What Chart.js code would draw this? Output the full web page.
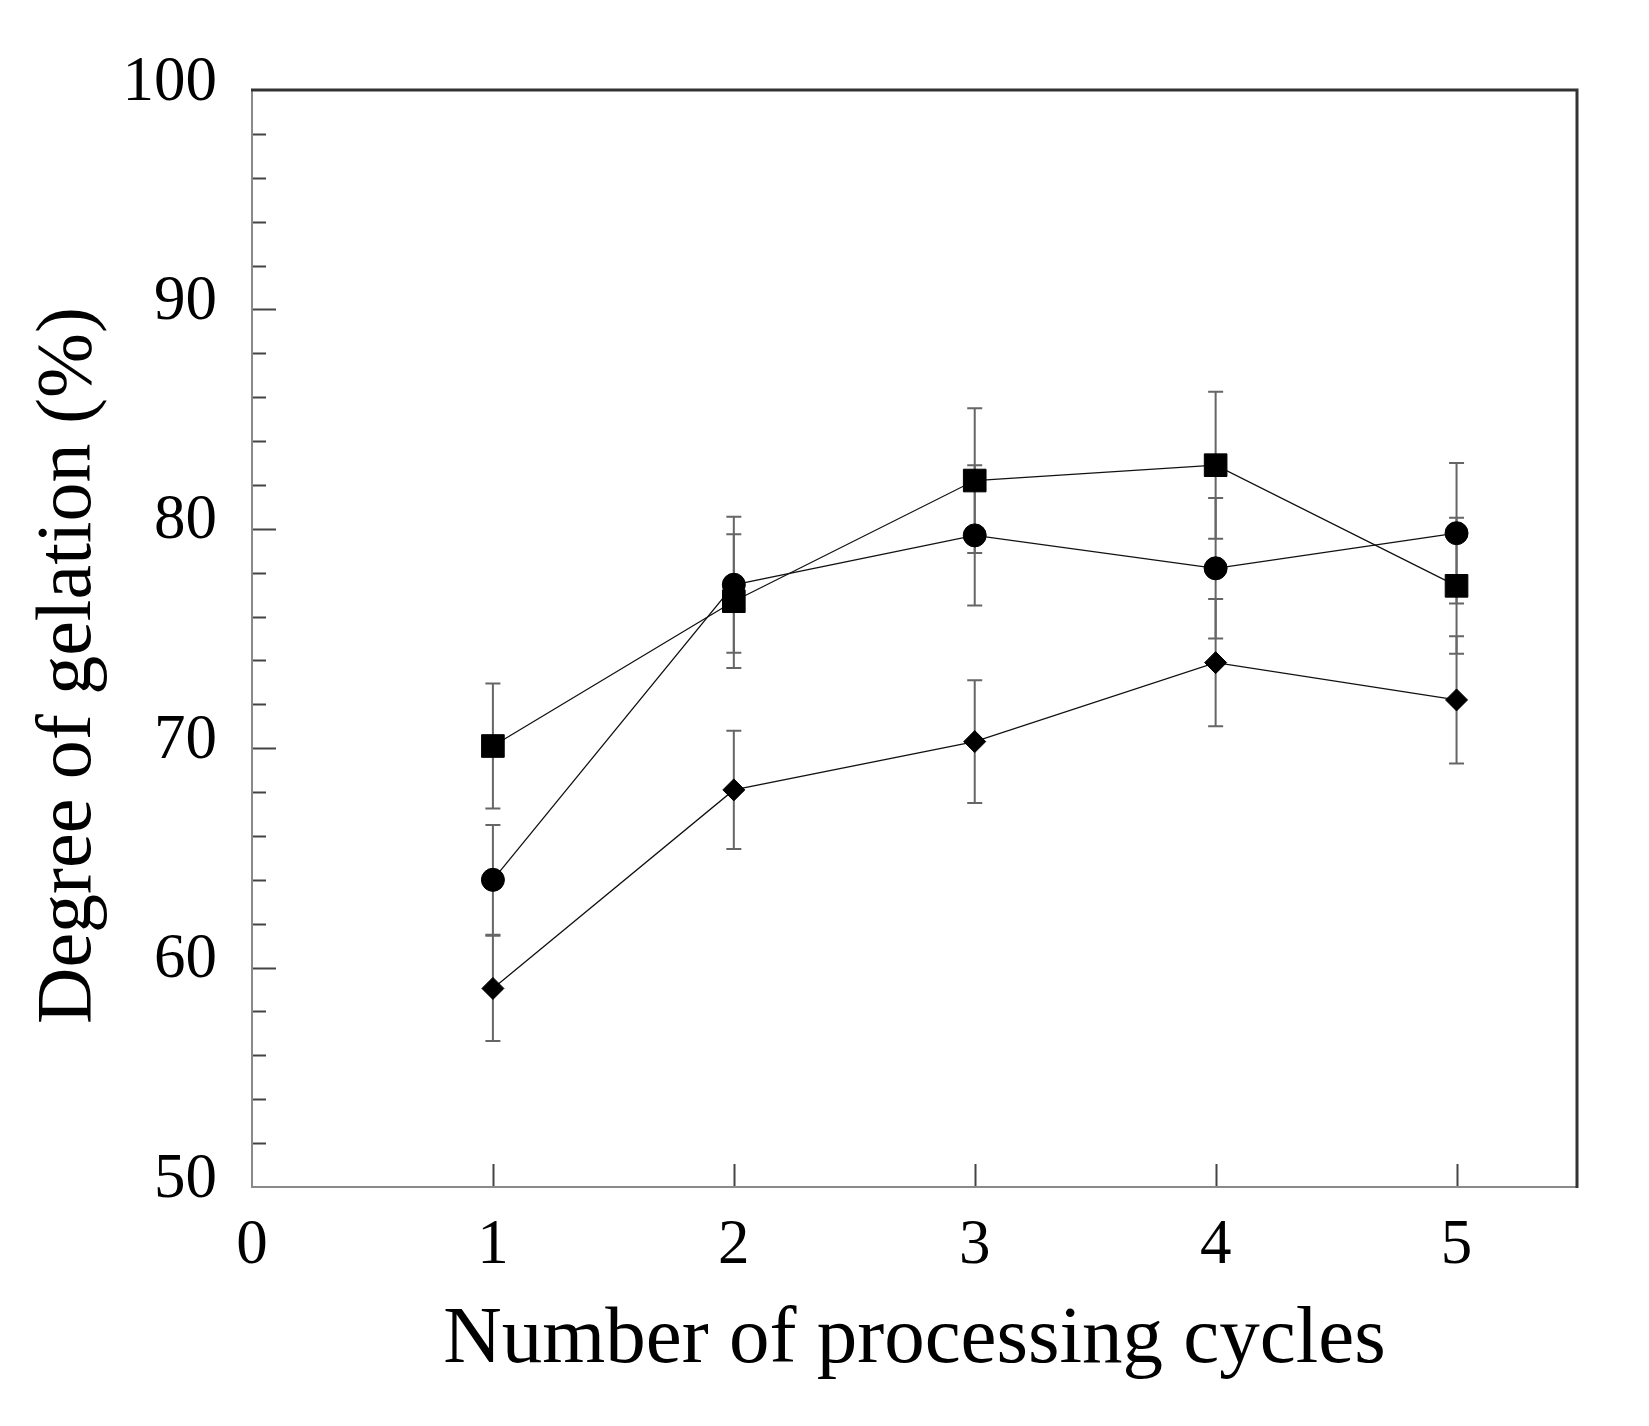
<!DOCTYPE html>
<html>
<head>
<meta charset="utf-8">
<script src="https://cdn.jsdelivr.net/npm/chart.js@4.4.1/dist/chart.umd.min.js"></script>
<style>
  html, body { margin: 0; padding: 0; background: #ffffff; }
  #wrap { width: 1649px; height: 1426px; position: relative; }
</style>
</head>
<body>
<div id="wrap"><canvas id="c" width="1649" height="1426"></canvas></div>
<script>
// ---- data ----
const cycles = [1, 2, 3, 4, 5];
const squareMean = [70.1, 76.7, 82.2, 82.9, 77.4];
const squareErr = [2.85, 3.05, 3.3, 3.35, 3.1];
const circleMean = [64.0, 77.45, 79.7, 78.2, 79.8];
const circleErr = [2.5, 3.1, 3.2, 3.2, 3.2];
const diamondMean = [59.05, 68.1, 70.3, 73.9, 72.2];
const diamondErr = [2.4, 2.7, 2.8, 2.9, 2.9];

const xTickValues = [0, 1, 2, 3, 4, 5];
const xMarkTicks = [1, 2, 3, 4, 5];
const yTickValues = [50, 60, 70, 80, 90, 100];
const yMinorTicks = [52, 54, 56, 58, 62, 64, 66, 68, 72, 74, 76, 78, 82, 84, 86, 88, 92, 94, 96, 98];

const xTitle = 'Number of processing cycles';
const yTitle = 'Degree of gelation (%)';

const toPoints = (ys) => cycles.map((c, i) => ({ x: c, y: ys[i] }));

const errorSets = [
  { mean: squareMean, err: squareErr },
  { mean: circleMean, err: circleErr },
  { mean: diamondMean, err: diamondErr }
];

const serif = "'Liberation Serif', 'DejaVu Serif', serif";

const decorPlugin = {
  id: 'decor',
  beforeDatasetsDraw(chart) {
    const { ctx, scales: { x, y } } = chart;
    ctx.save();
    ctx.strokeStyle = '#666666';
    ctx.lineWidth = 2;
    errorSets.forEach(s => {
      cycles.forEach((c, i) => {
        const px = x.getPixelForValue(c);
        const top = y.getPixelForValue(s.mean[i] + s.err[i]);
        const bot = y.getPixelForValue(s.mean[i] - s.err[i]);
        ctx.beginPath();
        ctx.moveTo(px, top); ctx.lineTo(px, bot);
        ctx.moveTo(px - 7.5, top); ctx.lineTo(px + 7.5, top);
        ctx.moveTo(px - 7.5, bot); ctx.lineTo(px + 7.5, bot);
        ctx.stroke();
      });
    });
    ctx.restore();
  },
  afterDraw(chart) {
    const { ctx, chartArea: a, scales: { x, y } } = chart;
    ctx.save();
    // inward ticks
    ctx.strokeStyle = '#444444';
    ctx.lineWidth = 2;
    ctx.beginPath();
    yTickValues.forEach(v => {
      if (v === 50 || v === 100) return;
      const py = Math.round(y.getPixelForValue(v)) + 0.5;
      ctx.moveTo(a.left, py); ctx.lineTo(a.left + 24, py);
    });
    yMinorTicks.forEach(v => {
      const py = Math.round(y.getPixelForValue(v)) + 0.5;
      ctx.moveTo(a.left, py); ctx.lineTo(a.left + 14, py);
    });
    xMarkTicks.forEach(v => {
      const px = Math.round(x.getPixelForValue(v)) + 0.5;
      ctx.moveTo(px, a.bottom); ctx.lineTo(px, a.bottom - 23);
    });
    ctx.stroke();
    // frame: left & bottom light, top & right dark
    ctx.lineWidth = 2;
    ctx.strokeStyle = '#8a8a8a';
    ctx.beginPath();
    ctx.moveTo(a.left, a.top); ctx.lineTo(a.left, a.bottom);
    ctx.lineTo(a.right, a.bottom);
    ctx.stroke();
    ctx.lineWidth = 3;
    ctx.strokeStyle = '#333333';
    ctx.beginPath();
    ctx.moveTo(a.left - 1, a.top); ctx.lineTo(a.right, a.top); ctx.lineTo(a.right, a.bottom + 1);
    ctx.stroke();
    // y-axis title (drawn slightly below the axis centre, as in the reference)
    ctx.fillStyle = '#000000';
    ctx.font = "78px " + serif;
    ctx.textAlign = 'center';
    ctx.textBaseline = 'middle';
    ctx.translate(70, (a.top + a.bottom) / 2 + 27);
    ctx.rotate(-Math.PI / 2);
    ctx.fillText(yTitle, 0, 0);
    ctx.restore();
  }
};

const common = {
  borderColor: '#111111',
  backgroundColor: '#000000',
  pointBackgroundColor: '#000000',
  pointBorderColor: '#000000',
  borderWidth: 1.3,
  pointBorderWidth: 1,
  tension: 0,
  fill: false
};

new Chart(document.getElementById('c'), {
  type: 'line',
  data: {
    datasets: [
      Object.assign({ label: 'square', data: toPoints(squareMean), pointStyle: 'rect', pointRadius: 16, pointHoverRadius: 16 }, common),
      Object.assign({ label: 'circle', data: toPoints(circleMean), pointStyle: 'circle', pointRadius: 11.5, pointHoverRadius: 11.5 }, common),
      Object.assign({ label: 'diamond', data: toPoints(diamondMean), pointStyle: 'rectRot', pointRadius: 11, pointHoverRadius: 11 }, common)
    ]
  },
  options: {
    responsive: false,
    animation: false,
    devicePixelRatio: 1,
    layout: { padding: { top: 90, right: 72, left: 0, bottom: 0 } },
    plugins: { legend: { display: false }, tooltip: { enabled: false } },
    scales: {
      x: {
        type: 'linear',
        min: 0,
        max: 5.5,
        afterBuildTicks: (scale) => { scale.ticks = xTickValues.map(v => ({ value: v })); },
        afterFit: (scale) => { scale.height = 239; },
        grid: { display: false, drawTicks: false },
        border: { display: false },
        ticks: {
          color: '#000000',
          padding: 22,
          maxRotation: 0,
          autoSkip: false,
          font: { family: serif, size: 63 },
          callback: (v) => String(v)
        },
        title: {
          display: true,
          text: xTitle,
          color: '#000000',
          font: { family: serif, size: 81 },
          padding: { top: 0, bottom: 37 }
        }
      },
      y: {
        type: 'linear',
        min: 50,
        max: 100,
        afterBuildTicks: (scale) => { scale.ticks = yTickValues.map(v => ({ value: v })); },
        afterFit: (scale) => { scale.width = 252; },
        grid: { display: false, drawTicks: false },
        border: { display: false },
        ticks: {
          color: '#000000',
          padding: 35,
          labelOffset: -7,
          autoSkip: false,
          font: { family: serif, size: 63 },
          callback: (v) => String(v)
        },
        title: { display: false, text: yTitle }
      }
    }
  },
  plugins: [decorPlugin]
});
</script>
</body>
</html>
